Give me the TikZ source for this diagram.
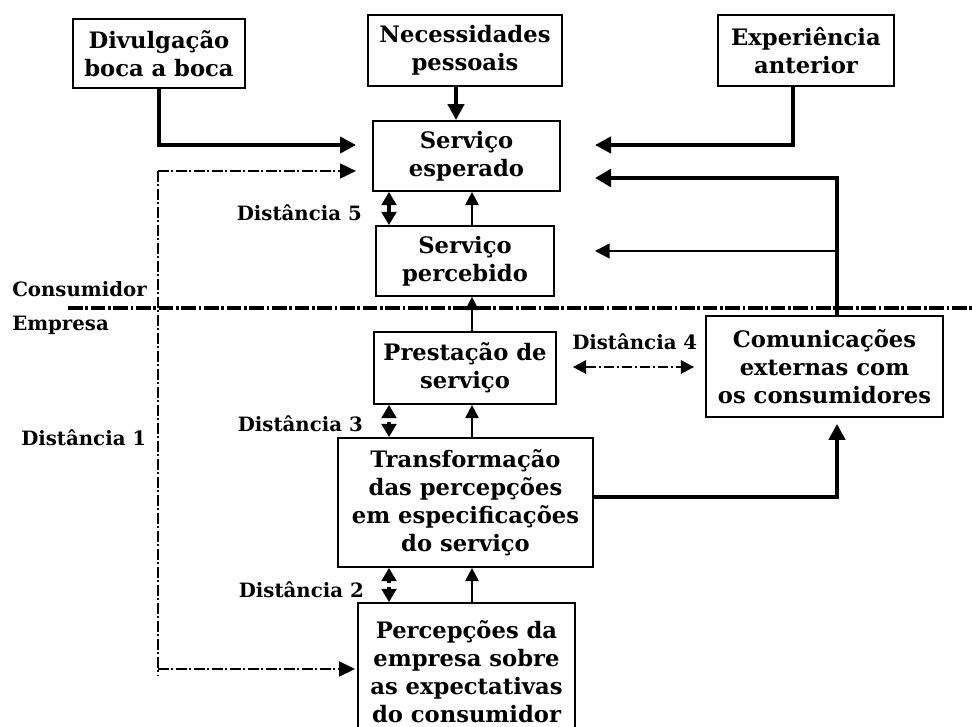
\documentclass[tikz,border=0pt]{standalone}
\usepackage{fontspec}
\setmainfont{DejaVu Serif}
\usetikzlibrary{arrows.meta,calc}
\newcommand\bxfont{\fontsize{17}{21}\selectfont\bfseries}
\newcommand\lbfont{\fontsize{14.8}{16}\selectfont\bfseries}
\begin{document}
\begin{tikzpicture}[x=0.75pt,y=-0.75pt,
  box/.style={draw,line width=1.3pt,align=center,font=\bxfont,inner sep=0pt},
  lbl/.style={font=\lbfont,inner sep=0pt},
  thk/.style={line width=3pt,-{Triangle[length=12pt,width=12pt]}},
  thkk/.style={line width=3.6pt,-{Triangle[length=12pt,width=13pt]}},
  mid/.style={line width=2pt,-{Triangle[length=11pt,width=11pt]}},
  thn/.style={line width=1.6pt,-{Triangle[length=10pt,width=10pt]}},
  dbl/.style={line width=3pt,{Triangle[length=10pt,width=11pt]}-{Triangle[length=10pt,width=11pt]}},
  gap/.style={line width=3pt,-{Triangle[length=10pt,width=11pt]}},
  dd/.style={line width=2pt,dash pattern=on 8pt off 2pt on 1.5pt off 2pt},
  ddtip/.style={-{Triangle[length=12pt,width=11pt]}},
  sep/.style={line width=3pt,dash pattern=on 11pt off 2pt on 2pt off 2pt}]
\useasboundingbox (0,0) rectangle (972,727);
\begin{scope}
\clip (0,0) rectangle (972,727);
% boxes
\node[box,minimum width=129pt,minimum height=51.75pt] (div) at (159,53.5) {Divulgação\\boca a boca};
\node[box,minimum width=145.5pt,minimum height=53.25pt] (nec) at (465,50.5) {Necessidades\\pessoais};
\node[box,minimum width=132pt,minimum height=53.25pt] (exp) at (806,50.5) {Experiência\\anterior};
\node[box,minimum width=140.25pt,minimum height=52.5pt] (esp) at (466.5,156) {Serviço\\esperado};
\node[box,minimum width=133.5pt,minimum height=52.5pt] (per) at (465,261) {Serviço\\percebido};
\node[box,minimum width=136.5pt,minimum height=54pt] (pre) at (465,368) {Prestação de\\serviço};
\node[box,minimum width=177.75pt,minimum height=75.75pt] (com) at (824.5,366.5) {Comunicações\\externas com\\os consumidores};
\node[box,minimum width=191.25pt,minimum height=96.75pt] (tra) at (465.5,502.5) {Transformação\\das percepções\\em especificações\\do serviço};
\node[box,minimum width=162.75pt,minimum height=102.75pt] (pc) at (466.5,671.5) {Percepções da\\empresa sobre\\as expectativas\\do consumidor};
% labels
\node[lbl,anchor=west] (cons) at (12,289) {Consumidor};
\node[lbl,anchor=west] (emp) at (12,325) {Empresa};
\node[lbl,anchor=west] (d1) at (21,438) {Distância 1};
\node[lbl,anchor=east] (d5) at (362,213) {Distância 5};
\node[lbl,anchor=east] (d3) at (363,424) {Distância 3};
\node[lbl,anchor=east] (d2) at (364,590) {Distância 2};
\node[lbl,anchor=west] (d4) at (572,342) {Distância 4};
% coordinates
\coordinate (tA) at (356,145);
\coordinate (tB) at (595,145);
\coordinate (tC) at (595,178);
\coordinate (tD) at (595,251);
\coordinate (br) at (837,251);
\coordinate (tE) at (356,171);
\coordinate (c1) at (158,171);
\coordinate (c2) at (158,676);
\coordinate (c3) at (158,669);
\coordinate (sepL) at (68,308);
\coordinate (sepR) at (972,308);
\coordinate (m3) at (389,420.5);
\coordinate (m2) at (389,585);
% separator
\draw[sep] (sepL) -- (sepR);
% upper arrows
\draw[thk] (div.south) |- (tA);
\draw[thk] ($(nec.south)+(-9,0)$) -- ($(esp.north)+(-10.5,0)$);
\draw[thk] ($(exp.south)+(-13,0)$) |- (tB);
\draw[thkk] ($(com.north)+(12.5,0)$) |- (tC);
\draw[mid] (br) -- (tD);
\draw[thn] ($(per.north)+(7,0)$) -- ($(esp.south)+(5.5,0)$);
\draw[thn] ($(pre.north)+(7,0)$) -- ($(per.south)+(7,0)$);
\draw[thn] ($(tra.north)+(6.5,0)$) -- ($(pre.south)+(7,0)$);
\draw[thn] ($(pc.north)+(5.5,0)$) -- ($(tra.south)+(6.5,0)$);
\draw[thk] ($(tra.east)+(0,-5.5)$) -| ($(com.south)+(12.5,6)$);
% gaps
\draw[dbl] ($(esp.south)+(-77.5,0)$) -- ($(per.north)+(-76,0)$);
\draw[gap] ($(m3)+(0,-2)$) -- (pre.south -| m3);
\draw[gap] ($(m3)+(0,2)$) -- (tra.north -| m3);
\draw[gap] ($(m2)+(0,-2)$) -- (tra.south -| m2);
\draw[gap] ($(m2)+(0,2)$) -- (pc.north -| m2);
\draw[dd,line width=1.8pt,{Triangle[length=10pt,width=10pt]}-{Triangle[length=10pt,width=10pt]}] ($(pre.east)+(16,-1)$) -- ($(com.west)+(-11,0.5)$);
% distance 1 dash-dot
\draw[dd] (c1) -- (c2);
\draw[dd,ddtip] (c1) -- (tE);
\draw[dd,ddtip] (c3) -- ($(pc.west)+(-2,-2.5)$);
\end{scope}
\end{tikzpicture}
\end{document}
